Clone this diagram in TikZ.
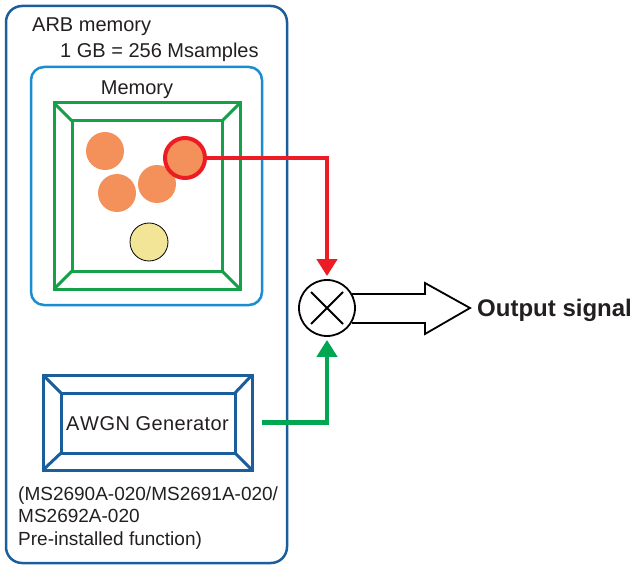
\documentclass[tikz,border=0pt]{standalone}
\usepackage{fontspec}
\setmainfont{Liberation Sans}
\usetikzlibrary{arrows.meta}
\definecolor{arbblue}{RGB}{27,94,155}
\definecolor{memblue}{RGB}{26,140,208}
\definecolor{framegreen}{RGB}{23,160,74}
\definecolor{sigred}{RGB}{237,28,36}
\definecolor{noisegreen}{RGB}{0,166,81}
\definecolor{sampleorange}{RGB}{244,144,90}
\definecolor{sampleyellow}{RGB}{243,229,151}
\definecolor{txtgray}{RGB}{35,31,32}
\tikzset{
  lbl/.style={text=txtgray,font=\fontsize{20}{22.7}\selectfont,inner sep=0pt,anchor=base west},
  smalllbl/.style={lbl,font=\fontsize{19}{22.7}\selectfont},
  sample/.style={circle,fill=sampleorange,minimum size=38pt,inner sep=0pt},
  feed/.style={line width=4.5pt,-{Triangle[width=20pt,length=17pt]}}
}
\begin{document}
\begin{tikzpicture}[x=1pt,y=-1pt]
	\useasboundingbox (0,0) rectangle (632,567);
	
	% ARB memory container
	\draw[arbblue,line width=2.5pt,rounded corners=16pt] (6,6) rectangle (287,563);
	\node[lbl] (arb) at (32,32) {ARB memory};
	\node[lbl] (size) at (60,58) {1 GB = 256 Msamples};
	
	% Memory box with its frame
	\draw[memblue,line width=2.5pt,rounded corners=13pt] (31,67) rectangle (262,305);
	\node[lbl,anchor=base] (mem) at (137,95) {Memory};
	\draw[framegreen,line width=3pt] (54,103) rectangle (240,289);
	\draw[framegreen,line width=3pt] (72,121) rectangle (222,271);
	\draw[framegreen,line width=3pt] (54,103) -- (72,121) (240,103) -- (222,121)
		(54,289) -- (72,271) (240,289) -- (222,271);
	
	% samples in memory
	\node[sample] (s1) at (105,151) {};
	\node[sample] (s2) at (117,193) {};
	\node[sample] (s3) at (157,184) {};
	\node[sample,draw=sigred,line width=4pt,minimum size=40pt] (sel) at (185,158) {};
	\node[circle,fill=sampleyellow,draw=black,line width=0.8pt,minimum size=38pt] (s4) at (149,242) {};
	
	% AWGN generator
	\node[draw=arbblue,line width=3pt,minimum width=209pt,minimum height=95pt,inner sep=0pt] (awgn) at (147.5,422.5) {};
	\draw[arbblue,line width=3pt] (61,393) rectangle (235,453);
	\draw[arbblue,line width=3pt] (43,375) -- (61,393) (252,375) -- (235,393)
		(43,470) -- (61,453) (252,470) -- (235,453);
	\node[lbl,anchor=base] (awgntxt) at (147.5,430) {A\kern0.6pt W\kern0.6pt G\kern0.6pt N G\kern0.4pt e\kern0.4pt n\kern0.4pt e\kern0.4pt r\kern0.4pt a\kern0.4pt t\kern0.4pt o\kern0.4pt r};
	\foreach \txt [count=\i] in {{(MS2690A-020/MS2691A-020/},{MS2692A-020},{Pre-installed function)}}
		\node[smalllbl] (note\i) at (18,477.5+22.5*\i) {\txt};
	
	% mixer
	\node[circle,draw=black,line width=1.8pt,minimum size=56pt,inner sep=0pt] (mix) at (327,308) {};
	\draw[line width=1.8pt] ([shift={(-16,-16)}]mix.center) -- ([shift={(16,16)}]mix.center)
		([shift={(16,-16)}]mix.center) -- ([shift={(-16,16)}]mix.center);
	
	\draw[feed,sigred] (sel.east) -| ([yshift=3pt]mix.north);
	\draw[feed,noisegreen] ([xshift=8pt]awgn.east) -| ([yshift=-3pt]mix.south);
	
	% output arrow
	\draw[line width=1.8pt,line join=miter] (352,294) -- (425,294) -- (425,283) -- (470,308)
		-- (425,334) -- (425,323) -- (352,323);
	\node[lbl,font=\bfseries\fontsize{24}{28}\selectfont] (out) at (477,316) {Output signal};
\end{tikzpicture}
\end{document}
